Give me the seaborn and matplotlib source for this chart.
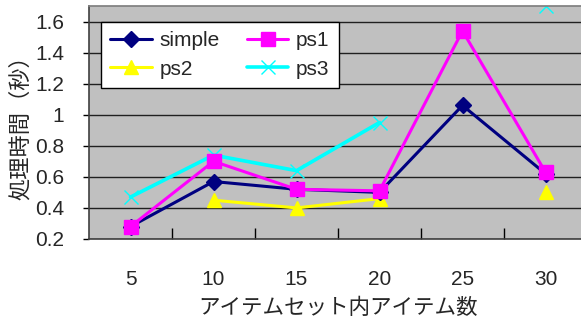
import numpy as np
import pandas as pd
import matplotlib
matplotlib.use("Agg")
import matplotlib.pyplot as plt
import seaborn as sns
from matplotlib.ticker import FixedLocator

# Item counts per itemset (category axis)
categories = ["5", "10", "15", "20", "25", "30"]

# Processing time in seconds for each method
simple = [0.28, 0.57, 0.52, 0.50, 1.06, 0.62]
ps1 = [0.28, 0.70, 0.52, 0.51, 1.54, 0.63]
ps2 = [np.nan, 0.45, 0.40, 0.46, np.nan, 0.50]
ps3 = [0.47, 0.74, 0.64, 0.95, np.nan, 1.70]

series = {"simple": simple, "ps1": ps1, "ps2": ps2, "ps3": ps3}
styles = {
    "simple": dict(color="#000080", marker="D", markersize=8, linewidth=2.2),
    "ps1": dict(color="#FF00FF", marker="s", markersize=10, linewidth=2.2),
    "ps2": dict(color="#FFFF00", marker="^", markersize=10, linewidth=2.2),
    "ps3": dict(color="#00FFFF", marker="x", markersize=10, linewidth=2.6,
                markeredgewidth=1.0),
}

sns.set_theme(style="white")
plt.rcParams["font.family"] = ["Liberation Sans", "Noto Sans CJK JP"]

fig = plt.figure(figsize=(5.81, 3.20), dpi=100)
ax = fig.add_axes([89 / 581, 1 - 239 / 320, 498 / 581, 233 / 320])
ax.set_facecolor("#C0C0C0")

# Long-form table; a new segment starts after each missing value so the
# line breaks there instead of bridging the gap.
rows = []
for name, vals in series.items():
    seg = 0
    for i, v in enumerate(vals):
        if np.isnan(v):
            seg += 1
            continue
        rows.append({"series": name, "pos": i, "value": v, "seg": seg})
df = pd.DataFrame(rows)

order = ["simple", "ps2", "ps1", "ps3"]
for name in ["ps3", "ps2", "simple", "ps1"]:
    sub = df[df["series"] == name]
    st = styles[name]
    sns.lineplot(data=sub, x="pos", y="value", units="seg", estimator=None,
                 ax=ax, color=st["color"], linewidth=st["linewidth"],
                 marker=st["marker"], markersize=st["markersize"],
                 markeredgecolor=st["color"],
                 markeredgewidth=st.get("markeredgewidth", 1),
                 label=name, legend=False, clip_on=True)

ax.set_xlim(-0.5, 5.5)
ax.set_ylim(0.2, 1.7)
ax.set_xticks(range(len(categories)))
ax.set_xticklabels(categories)
ax.xaxis.set_minor_locator(FixedLocator([0.5, 1.5, 2.5, 3.5, 4.5]))
ax.tick_params(axis="x", which="major", length=0, pad=22, labelsize=15)
ax.tick_params(axis="x", which="minor", direction="in", length=8,
               width=1, color="black", bottom=True)
yt = [0.2, 0.4, 0.6, 0.8, 1.0, 1.2, 1.4, 1.6]
ax.set_yticks(yt)
ax.set_yticklabels(["0.2", "0.4", "0.6", "0.8", "1", "1.2", "1.4", "1.6"])
ax.tick_params(axis="y", length=4, direction="out", left=True, width=1,
               color="black", pad=14, labelsize=15)
ax.grid(axis="y", color="#202020", linewidth=1)
ax.set_axisbelow(True)

for side in ["left", "bottom"]:
    ax.spines[side].set_color("#404040")
    ax.spines[side].set_linewidth(1.2)
ax.spines["top"].set_color("#808080")
ax.spines["right"].set_visible(False)

ax.set_xlabel("アイテムセット内アイテム数", fontsize=15.5, labelpad=7)
ax.set_ylabel("処理時間（秒）", fontsize=16, labelpad=2)

handles, labels = ax.get_legend_handles_labels()
hmap = dict(zip(labels, handles))
leg = ax.legend([hmap[n] for n in order], order, ncol=2, loc="upper left",
                bbox_to_anchor=(12 / 498, 1 - 16 / 233), borderaxespad=0,
                fontsize=15, frameon=True, fancybox=False, framealpha=1,
                edgecolor="black", borderpad=0.45, handlelength=2.0,
                columnspacing=1.3, labelspacing=0.45, handletextpad=0.35)
leg.get_frame().set_linewidth(1)

fig.savefig("out.png", dpi=100)
